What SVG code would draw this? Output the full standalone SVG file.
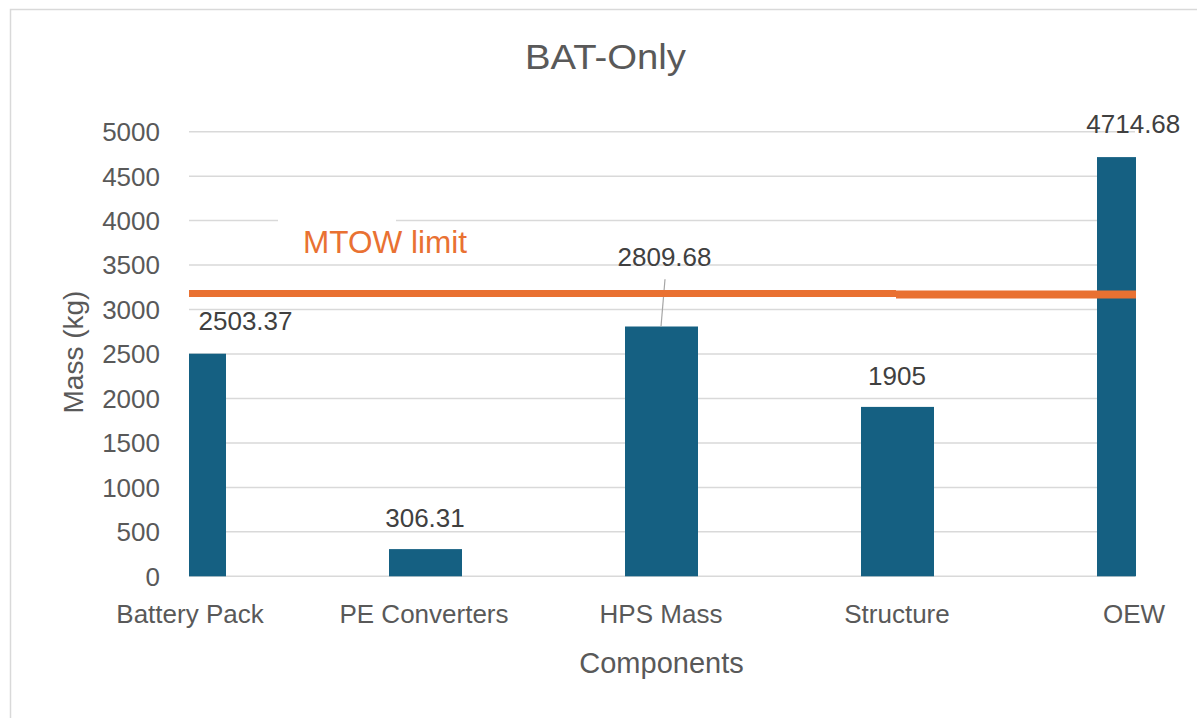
<svg xmlns="http://www.w3.org/2000/svg" width="1197" height="718" viewBox="0 0 1197 718">
  <style>
    text { font-family: "Liberation Sans", Arial, sans-serif; }
    .title { font-size: 35px; fill: #595959; text-anchor: middle; }
    .tick { font-size: 26px; fill: #595959; text-anchor: end; }
    .cat { font-size: 26px; fill: #595959; text-anchor: middle; }
    .axis-title { font-size: 29px; fill: #595959; text-anchor: middle; }
    .val { font-size: 26px; fill: #404040; text-anchor: middle; }
    .grid { stroke: #d9d9d9; stroke-width: 1.5; fill: none; }
    .bar { fill: #156082; }
    .limit { fill: #e97132; }
    .mtow { font-size: 31px; fill: #e97132; }
  </style>

  <!-- chart area frame -->
  <rect x="10.5" y="9.5" width="1300" height="800" fill="#ffffff" stroke="#d9d9d9" stroke-width="1.5"/>

  <!-- title -->
  <text class="title" x="605.5" y="69" textLength="161" lengthAdjust="spacingAndGlyphs">BAT-Only</text>

  <!-- horizontal gridlines (0 .. 5000 kg) -->
  <g id="gridlines">
    <line class="grid" x1="189" y1="131.7" x2="1135" y2="131.7"/>
    <line class="grid" x1="189" y1="176.2" x2="1135" y2="176.2"/>
    <line class="grid" x1="189" y1="220.6" x2="278" y2="220.6"/>
    <line class="grid" x1="396" y1="220.6" x2="1135" y2="220.6"/>
    <line class="grid" x1="189" y1="265.1" x2="1135" y2="265.1"/>
    <line class="grid" x1="189" y1="309.5" x2="1135" y2="309.5"/>
    <line class="grid" x1="189" y1="354.0" x2="1135" y2="354.0"/>
    <line class="grid" x1="189" y1="398.5" x2="1135" y2="398.5"/>
    <line class="grid" x1="189" y1="442.9" x2="1135" y2="442.9"/>
    <line class="grid" x1="189" y1="487.4" x2="1135" y2="487.4"/>
    <line class="grid" x1="189" y1="531.8" x2="1135" y2="531.8"/>
    <line class="grid" x1="189" y1="576.3" x2="1135" y2="576.3"/>
  </g>

  <!-- value axis labels -->
  <g id="y-axis">
    <text class="tick" x="160" y="141">5000</text>
    <text class="tick" x="160" y="185.5">4500</text>
    <text class="tick" x="160" y="229.5">4000</text>
    <text class="tick" x="160" y="274">3500</text>
    <text class="tick" x="160" y="318.5">3000</text>
    <text class="tick" x="160" y="363">2500</text>
    <text class="tick" x="160" y="407.5">2000</text>
    <text class="tick" x="160" y="452">1500</text>
    <text class="tick" x="160" y="496.5">1000</text>
    <text class="tick" x="160" y="541">500</text>
    <text class="tick" x="160" y="585.5">0</text>
    <text class="axis-title" transform="translate(83,352) rotate(-90)" style="font-size:28px">Mass (kg)</text>
  </g>

  <!-- bars -->
  <g id="bar-battery-pack">
    <rect class="bar" x="189" y="353.7" width="37" height="222.6"/>
    <text class="val" x="245.5" y="330">2503.37</text>
  </g>
  <g id="bar-pe-converters">
    <rect class="bar" x="389" y="549.1" width="73" height="27.2"/>
    <text class="val" x="425" y="527">306.31</text>
  </g>
  <g id="bar-hps-mass">
    <rect class="bar" x="625" y="326.5" width="73" height="249.8"/>
    <text class="val" x="664.5" y="265.7">2809.68</text>
  </g>
  <g id="bar-structure">
    <rect class="bar" x="861" y="406.9" width="73" height="169.4"/>
    <text class="val" x="897" y="385">1905</text>
  </g>
  <g id="bar-oew">
    <rect class="bar" x="1097" y="157.1" width="39" height="419.2"/>
    <text class="val" x="1133.3" y="133.3">4714.68</text>
  </g>

  <!-- MTOW limit line and leader line -->
  <g id="connectors">
    <line x1="665" y1="279.3" x2="661" y2="326.5" stroke="#a6a6a6" stroke-width="1.2"/>
    <rect class="limit" x="189" y="290" width="707" height="7"/>
    <rect class="limit" x="896" y="290.5" width="240" height="8"/>
  </g>
  <g id="mtow-label">
    <text class="mtow" x="303" y="253" textLength="164" lengthAdjust="spacingAndGlyphs">MTOW limit</text>
  </g>

  <!-- category axis labels -->
  <g id="x-axis">
    <text class="cat" x="190" y="623">Battery Pack</text>
    <text class="cat" x="424" y="623">PE Converters</text>
    <text class="cat" x="661" y="623">HPS Mass</text>
    <text class="cat" x="897" y="623">Structure</text>
    <text class="cat" x="1134" y="623">OEW</text>
    <text class="axis-title" x="661.5" y="673">Components</text>
  </g>
</svg>
